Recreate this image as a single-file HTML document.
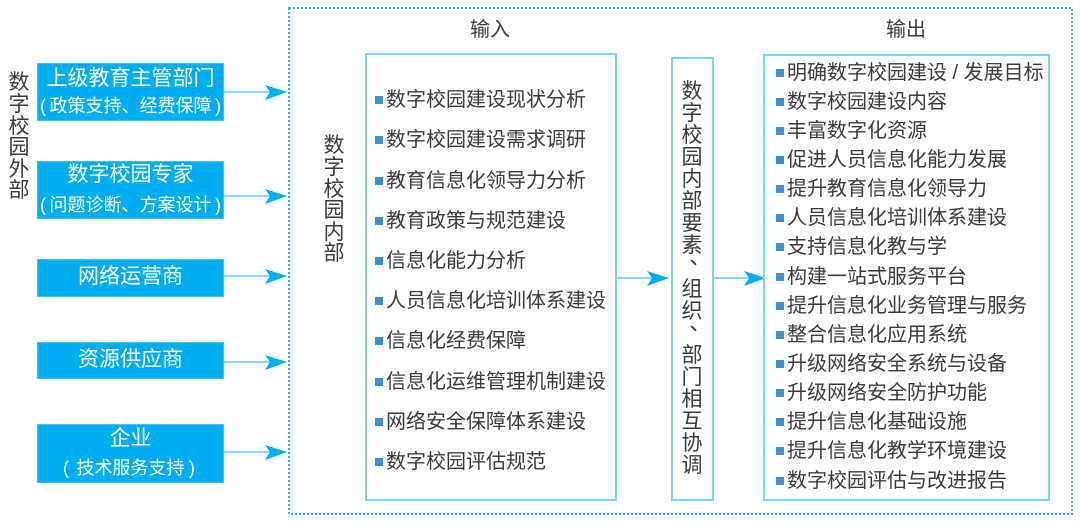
<!DOCTYPE html>
<html><head><meta charset="utf-8">
<style>
html,body{margin:0;padding:0;background:#fff;}
body{width:1080px;height:529px;position:relative;overflow:hidden;font-family:"Liberation Sans","Noto Sans CJK SC",sans-serif;color:#3a3a3a;}
.abs{position:absolute;}
.lbox{position:absolute;left:37px;width:187px;background:#00aeef;color:#fff;box-sizing:border-box;border:1px solid #40c0f0;}
.t{position:absolute;left:-10px;width:205px;text-align:center;white-space:nowrap;}
.big{font-size:21px;line-height:24px;}
.small{font-size:18px;line-height:20px;}
.par{position:absolute;font-family:"Liberation Sans",sans-serif;font-size:18px;line-height:20px;}
.frame{position:absolute;border:2px solid #7dd3f5;box-sizing:border-box;}
.item{position:absolute;font-size:20px;line-height:24px;white-space:nowrap;display:flex;align-items:center;}
.item i{display:inline-block;width:8px;height:8px;background:#3d8fd0;margin-right:3px;}
.vchar{position:absolute;font-size:21px;line-height:22px;width:24px;text-align:center;}
</style></head><body>

<svg class="abs" style="left:0;top:0" width="1080" height="529">
  <rect x="289" y="8" width="783" height="506" fill="none" stroke="#2ab4ec" stroke-width="2" stroke-dasharray="2 2"/>
  <g stroke="#66caf1" stroke-width="1.6">
    <line x1="224" y1="92" x2="270" y2="92"/>
    <line x1="224" y1="196" x2="270" y2="196"/>
    <line x1="224" y1="276" x2="270" y2="276"/>
    <line x1="224" y1="362" x2="270" y2="362"/>
    <line x1="224" y1="452" x2="270" y2="452"/>
    <line x1="616" y1="278" x2="652" y2="278"/>
    <line x1="713" y1="278" x2="750" y2="278"/>
  </g>
  <g fill="#00aeef">
    <path d="M287 92 L265 85 L270 92 L265 100 Z"/>
    <path d="M287 196 L265 189 L270 196 L265 204 Z"/>
    <path d="M287 276 L265 269 L270 276 L265 284 Z"/>
    <path d="M287 362 L265 355 L270 362 L265 370 Z"/>
    <path d="M287 452 L265 445 L270 452 L265 460 Z"/>
    <path d="M669 278 L647 271 L652 278 L647 286 Z"/>
    <path d="M766 278 L744 271 L749 278 L744 286 Z"/>
  </g>
</svg>

<!-- left vertical label -->
<div class="vchar" style="left:7px;top:72px;">数</div>
<div class="vchar" style="left:7px;top:94px;">字</div>
<div class="vchar" style="left:7px;top:116px;">校</div>
<div class="vchar" style="left:7px;top:137px;">园</div>
<div class="vchar" style="left:7px;top:159px;">外</div>
<div class="vchar" style="left:7px;top:180px;">部</div>

<!-- left boxes -->
<div class="lbox" style="top:63px;height:58px;">
  <div class="t big" style="top:3px;">上级教育主管部门</div>
  <div class="par" style="left:2px;top:32px;">(</div>
  <div class="t small" style="top:32px;">政策支持、经费保障</div>
  <div class="par" style="left:177px;top:32px;">)</div>
</div>
<div class="lbox" style="top:161px;height:58px;">
  <div class="t big" style="top:1px;">数字校园专家</div>
  <div class="par" style="left:2px;top:33px;">(</div>
  <div class="t small" style="top:33px;">问题诊断、方案设计</div>
  <div class="par" style="left:177px;top:33px;">)</div>
</div>
<div class="lbox" style="top:259px;height:38px;">
  <div class="t big" style="top:5px;">网络运营商</div>
</div>
<div class="lbox" style="top:342px;height:37px;">
  <div class="t big" style="top:5px;">资源供应商</div>
</div>
<div class="lbox" style="top:424px;height:59px;">
  <div class="t big" style="top:2px;">企业</div>
  <div class="par" style="left:25px;top:33px;">(</div>
  <div class="t small" style="top:33px;">技术服务支持</div>
  <div class="par" style="left:151px;top:33px;">)</div>
</div>

<!-- inner label -->
<div class="vchar" style="left:322px;top:135px;">数</div>
<div class="vchar" style="left:322px;top:157px;">字</div>
<div class="vchar" style="left:322px;top:179px;">校</div>
<div class="vchar" style="left:322px;top:200px;">园</div>
<div class="vchar" style="left:322px;top:222px;">内</div>
<div class="vchar" style="left:322px;top:243px;">部</div>

<!-- headings -->
<div class="abs" style="left:450px;top:18px;width:80px;text-align:center;font-size:20px;line-height:24px;">输入</div>
<div class="abs" style="left:866px;top:18px;width:80px;text-align:center;font-size:20px;line-height:24px;">输出</div>

<!-- input box -->
<div class="frame" style="left:365px;top:53px;width:252px;height:448px;"></div>
<div class="item" style="left:375px;top:88px;"><i></i>数字校园建设现状分析</div>
<div class="item" style="left:375px;top:128px;"><i></i>数字校园建设需求调研</div>
<div class="item" style="left:375px;top:169px;"><i></i>教育信息化领导力分析</div>
<div class="item" style="left:375px;top:209px;"><i></i>教育政策与规范建设</div>
<div class="item" style="left:375px;top:249px;"><i></i>信息化能力分析</div>
<div class="item" style="left:375px;top:289px;"><i></i>人员信息化培训体系建设</div>
<div class="item" style="left:375px;top:329px;"><i></i>信息化经费保障</div>
<div class="item" style="left:375px;top:370px;"><i></i>信息化运维管理机制建设</div>
<div class="item" style="left:375px;top:410px;"><i></i>网络安全保障体系建设</div>
<div class="item" style="left:375px;top:450px;"><i></i>数字校园评估规范</div>

<!-- middle box -->
<div class="frame" style="left:671px;top:57px;width:43px;height:444px;"></div>
<div class="vchar" style="left:680px;top:81px;">数</div>
<div class="vchar" style="left:680px;top:103px;">字</div>
<div class="vchar" style="left:680px;top:125px;">校</div>
<div class="vchar" style="left:680px;top:147px;">园</div>
<div class="vchar" style="left:680px;top:169px;">内</div>
<div class="vchar" style="left:680px;top:191px;">部</div>
<div class="vchar" style="left:680px;top:213px;">要</div>
<div class="vchar" style="left:680px;top:235px;">素</div>
<div class="vchar" style="left:688px;top:247px;">、</div>
<div class="vchar" style="left:680px;top:279px;">组</div>
<div class="vchar" style="left:680px;top:301px;">织</div>
<div class="vchar" style="left:688px;top:313px;">、</div>
<div class="vchar" style="left:680px;top:345px;">部</div>
<div class="vchar" style="left:680px;top:367px;">门</div>
<div class="vchar" style="left:680px;top:389px;">相</div>
<div class="vchar" style="left:680px;top:411px;">互</div>
<div class="vchar" style="left:680px;top:433px;">协</div>
<div class="vchar" style="left:680px;top:455px;">调</div>

<!-- output box -->
<div class="frame" style="left:763px;top:54px;width:287px;height:447px;"></div>
<div class="item" style="left:776px;top:61px;"><i></i>明确数字校园建设 / 发展目标</div>
<div class="item" style="left:776px;top:90px;"><i></i>数字校园建设内容</div>
<div class="item" style="left:776px;top:119px;"><i></i>丰富数字化资源</div>
<div class="item" style="left:776px;top:148px;"><i></i>促进人员信息化能力发展</div>
<div class="item" style="left:776px;top:177px;"><i></i>提升教育信息化领导力</div>
<div class="item" style="left:776px;top:206px;"><i></i>人员信息化培训体系建设</div>
<div class="item" style="left:776px;top:235px;"><i></i>支持信息化教与学</div>
<div class="item" style="left:776px;top:265px;"><i></i>构建一站式服务平台</div>
<div class="item" style="left:776px;top:294px;"><i></i>提升信息化业务管理与服务</div>
<div class="item" style="left:776px;top:323px;"><i></i>整合信息化应用系统</div>
<div class="item" style="left:776px;top:352px;"><i></i>升级网络安全系统与设备</div>
<div class="item" style="left:776px;top:381px;"><i></i>升级网络安全防护功能</div>
<div class="item" style="left:776px;top:410px;"><i></i>提升信息化基础设施</div>
<div class="item" style="left:776px;top:439px;"><i></i>提升信息化教学环境建设</div>
<div class="item" style="left:776px;top:469px;"><i></i>数字校园评估与改进报告</div>

</body></html>
